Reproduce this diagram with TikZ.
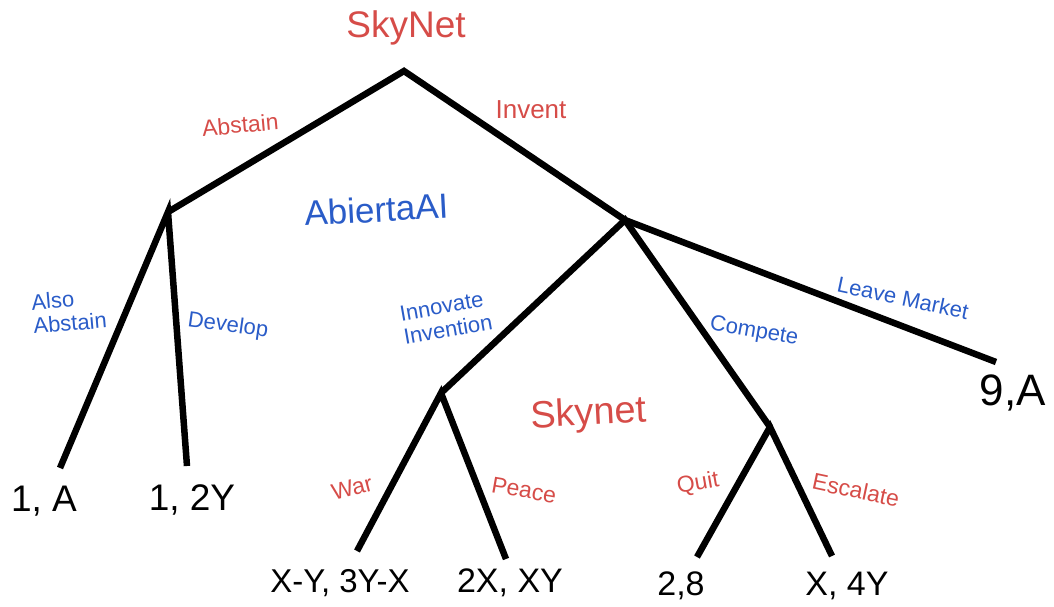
\documentclass[tikz,border=0pt]{standalone}
\usepackage{fontspec}
\setmainfont{Liberation Sans}
\definecolor{netred}{RGB}{214,76,72}
\definecolor{aiblue}{RGB}{42,92,200}

\begin{document}
\begin{tikzpicture}[x=1pt,y=-1pt]

% Styles
\tikzset{
  branch/.style={line width=6.5pt},
  redlbl/.style={text=netred,inner sep=0pt,font=\fontsize{23}{26}\selectfont},
  bluelbl/.style={text=aiblue,inner sep=0pt,align=left,font=\fontsize{22}{24}\selectfont},
  player/.style={inner sep=0pt,anchor=base,font=\fontsize{#1}{#1}\selectfont},
  payoff/.style={inner sep=0pt,anchor=base,font=\fontsize{#1}{#1}\selectfont}
}

% Frame
\useasboundingbox (0,0) rectangle (1054,606);

% Decision points
\coordinate (root)  at (404,71);
\coordinate (abst)  at (168,212);
\coordinate (inv)   at (625,220);
\coordinate (innov) at (441,393);
\coordinate (comp)  at (770,427);

% Ends of the branches
\coordinate (alsoend)  at (60,468);
\coordinate (devend)   at (187,466);
\coordinate (leaveend) at (996,362);
\coordinate (warend)   at (357,551);
\coordinate (peaceend) at (506,559);
\coordinate (quitend)  at (697,557);
\coordinate (escend)   at (832,556);

% Branches
\draw[branch] (abst) -- (root) -- (inv);
\draw[branch] (alsoend) -- (abst) -- (devend);
\draw[branch] (innov) -- (inv) -- (comp);
\draw[branch] (inv) -- (leaveend);
\draw[branch] (warend) -- (innov) -- (peaceend);
\draw[branch] (quitend) -- (comp) -- (escend);

% Players
\node[player=37,text=netred] (skynettop) at (406,37) {SkyNet};
\node[player=35,text=aiblue,rotate=3] (abierta) at (377,222) {AbiertaAI};
\node[player=38,text=netred,rotate=3] (skynetlow) at (589,425) {Skynet};

% Moves of SkyNet
\node[redlbl,anchor=base,rotate=5] (abstlbl) at (241,133) {Abstain};
\node[redlbl,anchor=base,font=\fontsize{26}{28}\selectfont] (invlbl) at (531,118) {Invent};

% Moves of AbiertaAI
\node[bluelbl,rotate=5] (alsolbl) at (69,311) {Also\\ Abstain};
\node[bluelbl,rotate=-8] (devlbl) at (228,326) {Develop};
\node[bluelbl,rotate=10] (innovlbl) at (446,318) {Innovate\\ Invention};
\node[bluelbl,rotate=-10] (complbl) at (754,332) {Compete};
\node[bluelbl,rotate=-12] (leavelbl) at (903,298) {Leave Market};

% Moves of Skynet
\node[redlbl,rotate=15] (warlbl) at (352,488) {War};
\node[redlbl,rotate=-10] (peacelbl) at (524,490) {Peace};
\node[redlbl,rotate=10] (quitlbl) at (698,484) {Quit};
\node[redlbl,rotate=-12] (esclbl) at (856,490) {Escalate};

% Payoffs
\node[payoff=37] (pay1) at (44,511) {1, A};
\node[payoff=37] (pay2) at (192,510) {1, 2Y};
\node[payoff=33] (pay3) at (340,592) {X-Y, 3Y-X};
\node[payoff=34] (pay4) at (510,592) {2X, XY};
\node[payoff=34] (pay5) at (681,595) {2,8};
\node[payoff=34] (pay6) at (847,595) {X, 4Y};
\node[payoff=44] (pay7) at (1013,405) {9,A};

\end{tikzpicture}
\end{document}
